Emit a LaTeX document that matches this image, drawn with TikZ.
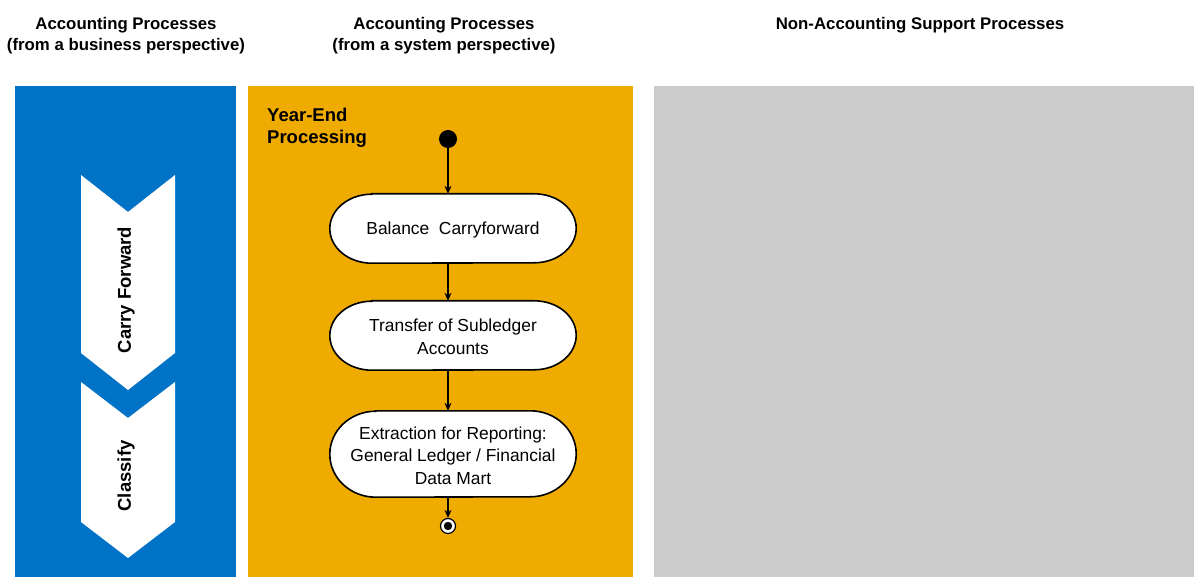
\documentclass[tikz,border=0pt]{standalone}
\usepackage{fontspec}
\setmainfont{Liberation Sans}
\usetikzlibrary{arrows.meta}
\definecolor{sapblue}{RGB}{0,115,199}
\definecolor{saporange}{RGB}{240,171,0}
\definecolor{sapgray}{RGB}{204,204,204}
\tikzset{
  heading/.style={font=\fontsize{16.8}{21}\selectfont\bfseries, align=center},
  activity/.style={draw=none, inner sep=0pt, align=center,
    minimum width=246pt, font=\fontsize{17.4}{22.5}\selectfont},
  pill/.style={draw=black, line width=1.6pt, fill=white},
  chev/.style={fill=white, draw=none},
  chevlabel/.style={rotate=90, font=\fontsize{18.5}{22}\selectfont\bfseries},
  flow/.style={line width=1.2pt, -{Stealth[length=8pt,width=7pt]}}
}
\begin{document}
\begin{tikzpicture}[x=1pt,y=-1pt]
\useasboundingbox (0,0) rectangle (1194,577);
\fill[white] (0,0) rectangle (1194,577);
% headings
\node[heading] (h1) at (126,36) {Accounting Processes\\(from a business perspective)};
\node[heading] (h2) at (444,36) {Accounting Processes\\(from a system perspective)};
\node[heading] (h3) at (920,25) {Non-Accounting Support Processes};
% panels
\fill[sapblue] (15,86) rectangle (236,577);
\fill[saporange] (248,86) rectangle (633,577);
\fill[sapgray] (654,86) rectangle (1194,577);
% chevrons
\fill[chev] (81,175) -- (128,212) -- (175,175) -- (175,353) -- (128,390) -- (81,353) -- cycle;
\fill[chev] (81,382) -- (128,418) -- (175,382) -- (175,522) -- (128,558) -- (81,522) -- cycle;
\node[chevlabel] (cf) at (126,290) {Carry Forward};
\node[chevlabel] (cl) at (126,476) {Classify};
% year-end label
\node[font=\fontsize{18.5}{22}\selectfont\bfseries, align=left, anchor=west, inner sep=0pt] (ye) at (267,128) {Year-End\\Processing};
% activity nodes
\node[circle, fill=black, minimum size=18pt, inner sep=0pt] (start) at (448,139) {};
\node[activity, minimum height=69pt] (a1) at (453,228.5) {};
\node[activity, minimum height=69pt] (a2) at (453,335.5) {};
\node[activity, minimum height=86pt] (a3) at (453,454) {};
\foreach \n/\rx/\ry in {a1/42pt/34.5pt, a2/42pt/34.5pt, a3/46pt/43pt}{
  \draw[pill] ([xshift=\rx]\n.north west) -- ([xshift=-\rx]\n.north east)
    arc[start angle=90, end angle=-90, x radius=\rx, y radius=\ry]
    -- ([xshift=\rx]\n.south west)
    arc[start angle=270, end angle=90, x radius=\rx, y radius=\ry] -- cycle;
}
\node[activity] at ([yshift=-1.5pt]a1.center) {Balance\ \ Carryforward};
\node[activity] at ([yshift=-1.5pt]a2.center) {Transfer of Subledger\\Accounts};
\node[activity] at ([yshift=-1.5pt]a3.center) {Extraction for Reporting:\\General Ledger / Financial\\Data Mart};
\node[circle, draw=black, line width=1.2pt, fill=white, minimum size=15pt, inner sep=0pt] (end) at (448,526) {};
\fill[black] (end.center) circle (4.2pt);
% connectors
\draw[flow] (start) -- (start |- a1.north);
\draw[flow] (start |- a1.south) -- (start |- a2.north);
\draw[flow] (start |- a2.south) -- (start |- a3.north);
\draw[flow] (start |- a3.south) -- (end);
\end{tikzpicture}
\end{document}
